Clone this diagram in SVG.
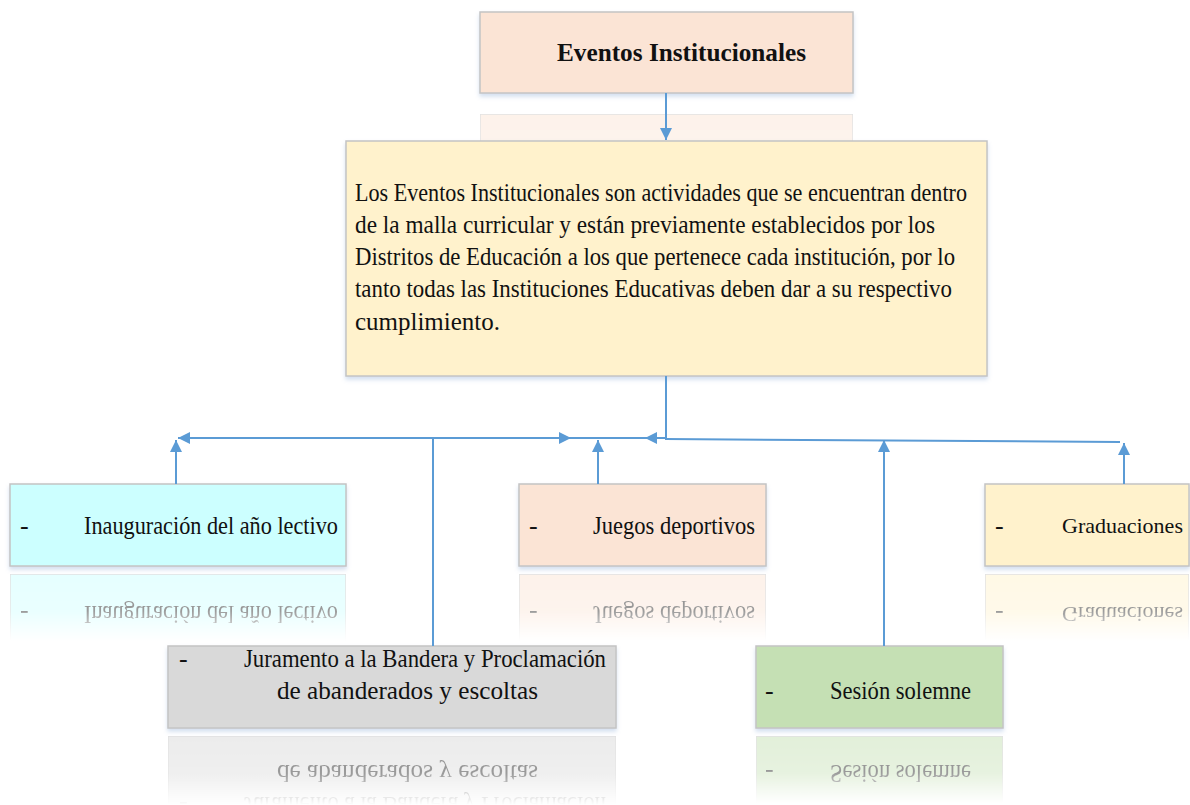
<svg xmlns="http://www.w3.org/2000/svg" xmlns:xlink="http://www.w3.org/1999/xlink" width="1190" height="805" viewBox="0 0 1190 805">
<style>
  .box { stroke: #c4c4c4; stroke-width: 1.5; filter: url(#shadow); }
  .t { font-family: "Liberation Serif", "Times New Roman", serif; font-size: 26px; fill: #111; }
  .d { font-size: 25px; }
  .title { font-weight: bold; font-size: 25px; }
  .conn { stroke: #5b9bd5; stroke-width: 2; fill: none; }
  .arr { marker-end: url(#ah); }
</style>
<defs>
  <marker id="ah" markerUnits="userSpaceOnUse" markerWidth="13" markerHeight="12" refX="12" refY="6" orient="auto">
    <path d="M0,0 L12,6 L0,12 z" fill="#5b9bd5"/>
  </marker>
  <filter id="shadow" x="-5%" y="-10%" width="110%" height="130%">
    <feDropShadow dx="0" dy="3" stdDeviation="2" flood-color="#9fb9dd" flood-opacity="0.45"/>
  </filter>
  <linearGradient id="fadeGrad" x1="0" y1="0" x2="0" y2="1">
    <stop offset="0" stop-color="#fff" stop-opacity="0.5"/>
    <stop offset="0.45" stop-color="#fff" stop-opacity="0.42"/>
    <stop offset="0.82" stop-color="#fff" stop-opacity="0"/>
  </linearGradient>
  <mask id="fade" maskContentUnits="objectBoundingBox">
    <rect x="0" y="0" width="1" height="1" fill="url(#fadeGrad)"/>
  </mask>
</defs>
<rect width="1190" height="805" fill="#ffffff"/>

<!-- Top node -->
<g id="node-eventos">
  <g id="eventos-body">
    <rect class="box" x="480" y="12" width="373" height="81" fill="#fbe4d5"/>
    <text class="t title" x="557" y="61" textLength="249" lengthAdjust="spacingAndGlyphs">Eventos Institucionales</text>
  </g>
  <g mask="url(#fade)"><use xlink:href="#eventos-body" transform="matrix(1,0,0,-1,0,207)"/></g>
</g>

<!-- Description node -->
<g id="node-descripcion">
  <rect class="box" x="346" y="141" width="641" height="235" fill="#fff2cc"/>
  <text class="t d" x="355" y="201" textLength="612" lengthAdjust="spacingAndGlyphs">Los Eventos Institucionales son actividades que se encuentran dentro</text>
  <text class="t d" x="355" y="233" textLength="580" lengthAdjust="spacingAndGlyphs">de la malla curricular y están previamente establecidos por los</text>
  <text class="t d" x="355" y="265" textLength="600" lengthAdjust="spacingAndGlyphs">Distritos de Educación a los que pertenece cada institución, por lo</text>
  <text class="t d" x="355" y="297" textLength="597" lengthAdjust="spacingAndGlyphs">tanto todas las Instituciones Educativas deben dar a su respectivo</text>
  <text class="t d" x="355" y="330" textLength="145" lengthAdjust="spacingAndGlyphs">cumplimiento.</text>
</g>

<!-- Inauguración -->
<g id="node-inauguracion">
  <g id="inaug-body">
    <rect class="box" x="10" y="484" width="336" height="82" fill="#ccffff"/>
    <text class="t" x="20" y="534">-</text>
    <text class="t" x="84" y="534" textLength="254" lengthAdjust="spacingAndGlyphs">Inauguración del año lectivo</text>
  </g>
  <g mask="url(#fade)"><use xlink:href="#inaug-body" transform="matrix(1,0,0,-1,0,1140)"/></g>
</g>

<!-- Juegos deportivos -->
<g id="node-juegos">
  <g id="juegos-body">
    <rect class="box" x="519" y="484" width="247" height="82" fill="#fbe4d5"/>
    <text class="t" x="529" y="534">-</text>
    <text class="t" x="593" y="534" textLength="162" lengthAdjust="spacingAndGlyphs">Juegos deportivos</text>
  </g>
  <g mask="url(#fade)"><use xlink:href="#juegos-body" transform="matrix(1,0,0,-1,0,1140)"/></g>
</g>

<!-- Graduaciones -->
<g id="node-graduaciones">
  <g id="grad-body">
    <rect class="box" x="985" y="484" width="204" height="82" fill="#fff2cc"/>
    <text class="t" x="995" y="534">-</text>
    <text class="t" x="1062" y="533" style="font-size:22px">Graduaciones</text>
  </g>
  <g mask="url(#fade)"><use xlink:href="#grad-body" transform="matrix(1,0,0,-1,0,1140)"/></g>
</g>

<!-- Juramento -->
<g id="node-juramento">
  <g id="jur-body">
    <rect class="box" x="168" y="646" width="448" height="82" fill="#d9d9d9"/>
    <text class="t" x="179" y="667">-</text>
    <text class="t" x="244" y="667" textLength="362" lengthAdjust="spacingAndGlyphs">Juramento a la Bandera y Proclamación</text>
    <text class="t" x="277" y="699" textLength="261" lengthAdjust="spacingAndGlyphs">de abanderados y escoltas</text>
  </g>
  <g mask="url(#fade)"><use xlink:href="#jur-body" transform="matrix(1,0,0,-1,0,1464)"/></g>
</g>

<!-- Sesión solemne -->
<g id="node-sesion">
  <g id="ses-body">
    <rect class="box" x="756" y="646" width="247" height="82" fill="#c5e0b4"/>
    <text class="t" x="765" y="699">-</text>
    <text class="t" x="830" y="699" textLength="141" lengthAdjust="spacingAndGlyphs">Sesión solemne</text>
  </g>
  <g mask="url(#fade)"><use xlink:href="#ses-body" transform="matrix(1,0,0,-1,0,1464)"/></g>
</g>

<!-- Connectors -->
<g id="connectors">
  <line class="conn arr" x1="666" y1="93" x2="666" y2="140"/>
  <line class="conn" x1="666" y1="376" x2="666" y2="439"/>
  <line class="conn arr" x1="667" y1="438" x2="645" y2="438"/>
  <line class="conn" x1="570" y1="438" x2="646" y2="438"/>
  <line class="conn arr" x1="433" y1="438" x2="178" y2="438"/>
  <line class="conn arr" x1="433" y1="438" x2="571" y2="438"/>
  <line class="conn" x1="665" y1="439" x2="1120" y2="442"/>
  <line class="conn" x1="433" y1="646" x2="433" y2="438"/>
  <line class="conn arr" x1="176" y1="484" x2="176" y2="440"/>
  <line class="conn arr" x1="598" y1="484" x2="598" y2="440"/>
  <line class="conn arr" x1="884" y1="646" x2="884" y2="440"/>
  <line class="conn arr" x1="1124" y1="484" x2="1124" y2="443"/>
</g>
</svg>
